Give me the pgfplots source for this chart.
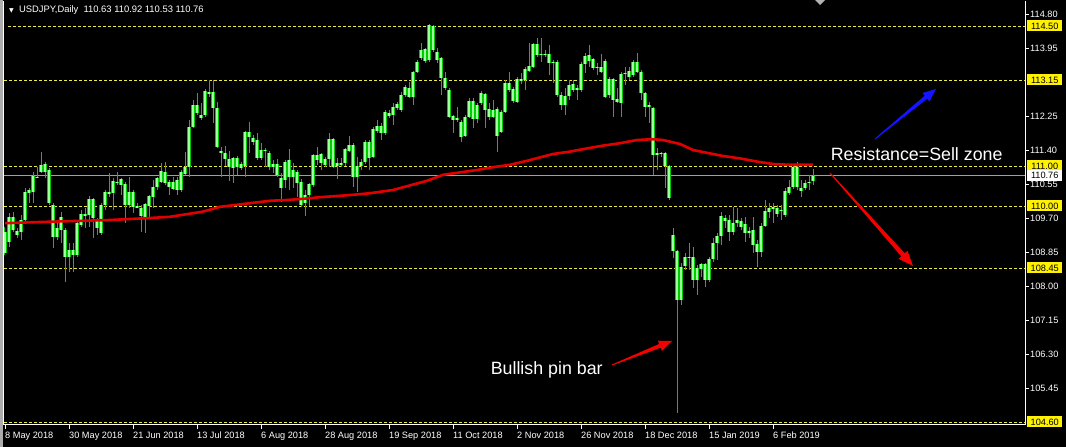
\documentclass[border=0pt]{standalone}
\usepackage{pgfplots}
\pgfplotsset{compat=1.18}
\usepackage{pgfplotstable}
\usepackage{fontspec}
\setmainfont{Liberation Sans}
\newfontfamily\dejavu{DejaVu Sans}
\usetikzlibrary{arrows.meta,calc}
\definecolor{wick}{RGB}{0,205,0}
\definecolor{bodyc}{RGB}{0,205,0}
\definecolor{bodyin}{RGB}{160,255,160}
\definecolor{ma}{RGB}{225,0,0}
\definecolor{lvl}{RGB}{235,235,70}
\definecolor{arr}{RGB}{245,0,0}
\definecolor{arb}{RGB}{20,20,255}
\newcommand\sm{\fontsize{9.2}{10}\selectfont}
\tikzset{hl/.style={anchor=west, fill=yellow, text=black, inner sep=0pt, minimum width=35pt, minimum height=11pt, font=\sm, xshift=2pt}}

\pgfplotstableread{
i t b h l
0 109.36 108.82 109.47 108.77
1 109.73 109.11 109.82 108.98
2 109.72 109.40 109.86 109.36
3 109.38 109.28 109.44 109.19
4 109.65 109.36 109.78 109.15
5 110.36 109.65 110.44 109.61
6 110.40 110.33 110.44 110.07
7 110.75 110.36 110.86 110.07
8 110.73 110.70 110.97 110.69
9 111.02 110.86 111.36 110.82
10 111.05 110.86 111.11 110.69
11 110.90 110.07 110.94 110.03
12 110.03 109.23 110.07 108.94
13 109.44 109.23 109.57 109.15
14 109.73 109.40 109.86 109.07
15 109.40 108.73 109.44 108.11
16 108.90 108.73 109.07 108.36
17 108.90 108.77 109.07 108.36
18 109.57 108.77 109.61 108.73
19 109.80 109.53 109.90 109.48
20 109.80 109.75 109.94 109.44
21 110.17 109.78 110.25 109.48
22 110.17 109.69 110.19 109.19
23 109.67 109.44 109.69 109.28
24 110.03 109.32 110.07 109.28
25 110.36 110.03 110.40 109.90
26 110.34 110.30 110.82 110.23
27 110.63 110.32 110.69 109.90
28 110.61 110.57 110.86 110.52
29 110.67 110.52 110.69 110.27
30 110.55 110.03 110.61 109.57
31 110.36 110.03 110.73 109.94
32 110.34 109.98 110.40 109.82
33 109.99 109.96 110.07 109.94
34 109.94 109.75 110.03 109.36
35 110.05 109.73 110.07 109.32
36 110.25 110.00 110.27 109.73
37 110.48 110.23 110.65 109.94
38 110.69 110.48 110.73 110.40
39 110.88 110.61 111.07 110.57
40 110.86 110.58 111.11 110.52
41 110.61 110.48 110.65 110.27
42 110.61 110.42 110.73 110.40
43 110.65 110.40 110.73 110.27
44 110.86 110.40 110.90 110.36
45 110.98 110.80 111.36 110.77
46 111.98 110.98 112.15 110.73
47 112.52 111.98 112.65 111.94
48 112.52 112.32 112.82 112.27
49 112.27 112.19 112.57 112.15
50 112.88 112.27 112.92 112.23
51 112.84 112.81 113.15 112.73
52 112.84 112.44 113.15 112.07
53 112.44 111.48 112.61 111.44
54 111.38 111.32 111.48 110.73
55 111.32 111.17 111.50 111.00
56 111.17 110.97 111.38 110.63
57 111.19 110.94 111.23 110.58
58 111.21 110.97 111.25 110.77
59 111.05 110.94 111.11 110.90
60 111.84 111.00 111.88 110.73
61 111.84 111.72 112.11 111.33
62 111.69 111.61 111.78 111.53
63 111.65 111.19 111.82 111.15
64 111.40 111.19 111.57 111.15
65 111.40 111.37 111.44 110.98
66 111.33 110.97 111.38 110.90
67 111.05 110.97 111.15 110.82
68 111.05 110.77 111.17 110.72
69 110.69 110.44 110.82 110.11
70 111.11 110.65 111.15 110.44
71 111.15 110.73 111.42 110.40
72 110.90 110.72 111.08 110.44
73 110.86 110.58 110.90 110.23
74 110.61 110.03 110.67 109.98
75 110.27 110.07 110.40 109.75
76 110.55 110.27 110.58 110.00
77 111.27 110.53 111.30 110.48
78 111.27 111.15 111.47 111.03
79 111.30 111.07 111.32 110.90
80 111.17 111.03 111.23 110.97
81 111.67 111.17 111.83 110.97
82 111.67 110.97 111.69 110.94
83 111.08 111.00 111.19 110.67
84 111.08 111.03 111.19 110.98
85 111.42 111.07 111.44 111.00
86 111.53 111.38 111.75 111.36
87 111.53 110.73 111.57 110.48
88 111.00 110.73 111.23 110.36
89 111.11 111.00 111.17 110.90
90 111.61 111.09 111.65 111.05
91 111.60 111.19 111.65 110.90
92 111.93 111.23 111.98 111.19
93 112.01 111.88 112.15 111.82
94 112.01 111.83 112.07 111.65
95 112.34 111.82 112.40 111.78
96 112.32 112.25 112.40 112.19
97 112.47 112.28 112.57 112.03
98 112.54 112.44 112.61 112.40
99 112.78 112.40 112.86 112.36
100 112.97 112.78 113.03 112.73
101 112.94 112.72 113.11 112.69
102 113.34 112.72 113.38 112.53
103 113.59 113.34 113.65 113.32
104 113.90 113.69 114.07 113.65
105 113.92 113.63 113.94 113.57
106 114.53 113.65 114.55 113.61
107 114.50 113.90 114.52 113.86
108 113.86 113.65 113.94 113.57
109 113.69 113.19 113.73 112.78
110 113.21 112.94 113.36 112.90
111 112.90 112.23 112.94 112.19
112 112.25 112.15 112.27 111.82
113 112.19 112.15 112.48 112.11
114 112.11 111.73 112.15 111.61
115 112.22 111.75 112.27 111.73
116 112.63 112.23 112.69 112.19
117 112.63 112.17 112.69 111.94
118 112.52 112.18 112.57 112.07
119 112.82 112.57 112.88 112.52
120 112.79 112.40 112.83 111.94
121 112.42 112.22 112.57 112.15
122 112.40 112.23 112.65 112.19
123 112.42 111.75 112.48 111.36
124 112.36 111.86 112.40 111.82
125 113.08 112.36 113.15 112.32
126 113.07 112.90 113.36 112.86
127 112.93 112.63 112.98 112.57
128 113.17 112.61 113.23 112.57
129 113.17 113.13 113.32 113.05
130 113.42 113.15 113.48 112.90
131 113.50 113.38 114.07 113.36
132 114.05 113.48 114.07 113.44
133 114.05 113.78 114.19 113.73
134 113.80 113.77 114.19 113.61
135 113.80 113.77 113.90 113.73
136 113.80 113.58 114.03 113.28
137 113.61 113.57 113.65 113.07
138 113.61 112.78 113.65 112.73
139 112.78 112.53 112.86 112.40
140 112.75 112.53 112.94 112.28
141 113.03 112.75 113.15 112.65
142 113.05 112.90 113.15 112.86
143 112.94 112.90 113.03 112.65
144 113.55 112.90 113.61 112.86
145 113.75 113.55 113.82 113.32
146 113.78 113.63 114.03 113.48
147 113.67 113.44 113.69 113.40
148 113.47 113.44 113.57 113.28
149 113.47 113.36 113.80 113.32
150 113.63 112.73 113.67 112.69
151 113.17 112.78 113.23 112.69
152 113.17 112.65 113.19 112.23
153 112.67 112.61 112.94 112.57
154 113.30 112.58 113.36 112.23
155 113.33 113.30 113.48 113.03
156 113.38 113.23 113.48 113.15
157 113.61 113.28 113.65 113.23
158 113.61 113.36 113.82 113.32
159 113.36 112.82 113.40 112.65
160 112.83 112.48 112.86 112.23
161 112.53 112.47 112.61 112.07
162 112.44 111.28 112.48 110.78
163 111.32 111.28 111.44 110.90
164 111.33 111.30 111.36 111.23
165 111.33 111.00 111.36 110.44
166 111.00 110.19 111.03 110.15
167 109.28 108.88 109.44 108.69
168 108.88 107.65 108.90 104.82
169 108.47 107.65 108.57 107.53
170 108.72 108.50 108.82 108.40
171 108.73 108.70 109.07 108.40
172 108.72 108.15 108.98 107.94
173 108.44 108.15 108.53 107.78
174 108.55 108.42 108.57 108.23
175 108.55 108.15 108.58 107.98
176 108.67 108.15 108.73 108.11
177 109.07 108.67 109.19 108.61
178 109.25 109.07 109.32 108.65
179 109.75 109.25 109.86 109.03
180 109.69 109.63 109.78 109.44
181 109.65 109.36 109.78 109.13
182 109.58 109.36 109.98 109.28
183 109.65 109.57 109.94 109.47
184 109.63 109.48 109.69 109.40
185 109.55 109.33 109.73 109.11
186 109.38 109.32 109.48 109.19
187 109.40 109.03 109.73 108.82
188 109.05 108.86 109.15 108.48
189 109.50 108.86 109.57 108.73
190 109.88 109.50 110.15 109.47
191 109.94 109.86 110.07 109.69
192 109.97 109.92 110.07 109.57
193 109.94 109.79 110.03 109.73
194 109.90 109.87 110.03 109.65
195 110.38 109.78 110.44 109.73
196 110.47 110.33 110.65 110.28
197 110.98 110.47 111.03 110.42
198 110.98 110.47 111.11 110.40
199 110.44 110.38 110.65 110.23
200 110.58 110.44 110.65 110.40
201 110.61 110.58 110.78 110.40
202 110.76 110.63 110.92 110.53
}\candles

\pgfplotstableread{
x y
0 109.57
8.75 109.60
26.25 109.65
36.25 109.70
41.25 109.73
49.5 109.86
53.75 109.98
58 110.03
62 110.08
66.25 110.13
70.5 110.15
74.5 110.18
78.75 110.22
83 110.25
87 110.28
91.25 110.32
97 110.40
105.5 110.63
109.5 110.78
113.75 110.84
118 110.90
122 110.97
126.25 111.03
130.5 111.13
137 111.30
141.25 111.36
145.5 111.44
149.5 111.51
153.75 111.57
158 111.65
162 111.67
164.5 111.65
168.75 111.55
172 111.40
175.5 111.33
179.5 111.25
183.75 111.19
188 111.11
192 111.05
196.25 111.03
202 111.03
}\matable

\begin{document}
\begin{tikzpicture}[x=1pt,y=1pt]
\fill[black] (0,0) rectangle (1066,447);
\fill[gray!65] (0,0) rectangle (3,447);
\begin{axis}[
  at={(4pt,22pt)}, anchor=south west,
  scale only axis, width=1021pt, height=424pt,
  xmin=-0.25, xmax=255, ymin=104.525, ymax=115.125,
  clip=false,
  axis line style={draw=none},
  tick style={white, line width=0.8pt},
  major tick length=4pt,
  tick align=outside,
  xtick pos=left, ytick pos=right, yticklabel pos=right,
  xtick={0,16,...,192},
  xticklabels={8 May 2018,30 May 2018,21 Jun 2018,13 Jul 2018,6 Aug 2018,28 Aug 2018,19 Sep 2018,11 Oct 2018,2 Nov 2018,26 Nov 2018,18 Dec 2018,15 Jan 2019,6 Feb 2019},
  xticklabel style={anchor=north west, xshift=-1pt, yshift=-2pt, font=\sm, text=white, inner sep=1pt},
  ytick={114.80,113.95,112.25,111.40,110.55,109.70,108.85,108.00,107.15,106.30,105.45},
  yticklabel style={anchor=west, font=\sm, text=white, inner sep=1pt,
    /pgf/number format/fixed, /pgf/number format/fixed zerofill,
    /pgf/number format/precision=2, /pgf/number format/assume math mode=true},
  minor tick num=0,
]
% level lines
\addplot[lvl, dash pattern=on 3pt off 2pt, line width=0.9pt, forget plot] coordinates {(0.75,114.50) (255,114.50)};
\addplot[lvl, dash pattern=on 3pt off 2pt, line width=0.9pt, forget plot] coordinates {(-0.25,113.15) (255,113.15)};
\addplot[lvl, dash pattern=on 3pt off 2pt, line width=0.9pt, forget plot] coordinates {(-0.25,111.00) (255,111.00)};
\addplot[lvl, dash pattern=on 3pt off 2pt, line width=0.9pt, forget plot] coordinates {(-0.25,110.00) (255,110.00)};
\addplot[lvl, dash pattern=on 3pt off 2pt, line width=0.9pt, forget plot] coordinates {(-0.25,108.45) (255,108.45)};
\addplot[lvl, dash pattern=on 3pt off 2pt, line width=0.9pt, forget plot] coordinates {(-0.25,104.60) (255,104.60)};
\addplot[gray!75, line width=0.9pt, forget plot] coordinates {(-0.25,110.76) (255,110.76)};
% wicks
\addplot[draw=none, mark=none, forget plot,
  error bars/.cd, y dir=minus, y explicit, error mark=none,
  error bar style={draw=wick, line width=1pt, line cap=butt}]
  table[x=i, y=h, y error minus expr=\thisrow{h}-\thisrow{l}] {\candles};
% bodies
\addplot[draw=none, mark=none, forget plot,
  error bars/.cd, y dir=minus, y explicit, error mark=none,
  error bar style={draw=bodyc, line width=3.2pt, line cap=butt}]
  table[x=i, y=t, y error minus expr=\thisrow{t}-\thisrow{b}] {\candles};
\addplot[draw=none, mark=none, forget plot,
  error bars/.cd, y dir=minus, y explicit, error mark=none,
  error bar style={draw=bodyin, line width=1.2pt, line cap=butt}]
  table[x=i, y=t, y error minus expr=\thisrow{t}-\thisrow{b}] {\candles};
% moving average
\addplot[ma, line width=2.6pt, forget plot] table[x=x, y=y] {\matable};
% frame
\draw[white, line width=1pt] (rel axis cs:0,1) -- (rel axis cs:0,0) -- (rel axis cs:1,0) -- (rel axis cs:1,1);
% tapered arrows
\coordinate (A1) at (axis cs:151.75,106.025); \coordinate (B1) at (axis cs:166.75,106.625);
\coordinate (H1) at ($(B1)!13pt!(A1)$);
\fill[arr] ($(A1)!0.5pt!90:(B1)$) -- ($(H1)!2pt!-90:(A1)$) -- ($(H1)!5.5pt!-90:(A1)$) -- (B1) -- ($(H1)!5.5pt!90:(A1)$) -- ($(H1)!2pt!90:(A1)$) -- ($(A1)!0.5pt!-90:(B1)$) -- cycle;
\coordinate (A2) at (axis cs:206.25,110.825); \coordinate (B2) at (axis cs:227,108.5);
\coordinate (H2) at ($(B2)!15pt!(A2)$);
\fill[arr] ($(A2)!0.5pt!90:(B2)$) -- ($(H2)!2.3pt!-90:(A2)$) -- ($(H2)!6pt!-90:(A2)$) -- (B2) -- ($(H2)!6pt!90:(A2)$) -- ($(H2)!2.3pt!90:(A2)$) -- ($(A2)!0.5pt!-90:(B2)$) -- cycle;
\coordinate (A3) at (axis cs:217.5,111.675); \coordinate (B3) at (axis cs:232.75,112.925);
\coordinate (H3) at ($(B3)!13pt!(A3)$);
\fill[arb] ($(A3)!0.5pt!90:(B3)$) -- ($(H3)!2pt!-90:(A3)$) -- ($(H3)!5.5pt!-90:(A3)$) -- (B3) -- ($(H3)!5.5pt!90:(A3)$) -- ($(H3)!2pt!90:(A3)$) -- ($(A3)!0.5pt!-90:(B3)$) -- cycle;
% texts
\node[anchor=base west, inner sep=0pt, text=white, font=\fontsize{17.8}{20}\selectfont] at (axis cs:206.4,111.125) {Resistance=Sell zone};
\node[anchor=base west, inner sep=0pt, text=white, font=\fontsize{17.8}{20}\selectfont] at (axis cs:121.4,105.775) {Bullish pin bar};
% highlighted price labels
\node[hl] at (axis cs:255,114.50) {114.50};
\node[hl] at (axis cs:255,113.15) {113.15};
\node[hl] at (axis cs:255,111.00) {111.00};
\node[hl] at (axis cs:255,110.00) {110.00};
\node[hl] at (axis cs:255,108.45) {108.45};
\node[hl] at (axis cs:255,104.60) {104.60};
\node[hl, fill=white] at (axis cs:255,110.76) {110.76};
\end{axis}
\node[anchor=west, inner sep=0pt, text=white, font=\fontsize{9.4}{10}\selectfont] at (9,437) {{\dejavu\fontsize{6}{6}\selectfont ▼}\ \ USDJPY,Daily\ \ 110.63 110.92 110.53 110.76};
\fill[gray!60] (815,447) -- (825,447) -- (820,442) -- cycle;
\pgfresetboundingbox
\path[use as bounding box] (0,0) rectangle (1066,447);
\end{tikzpicture}
\end{document}
